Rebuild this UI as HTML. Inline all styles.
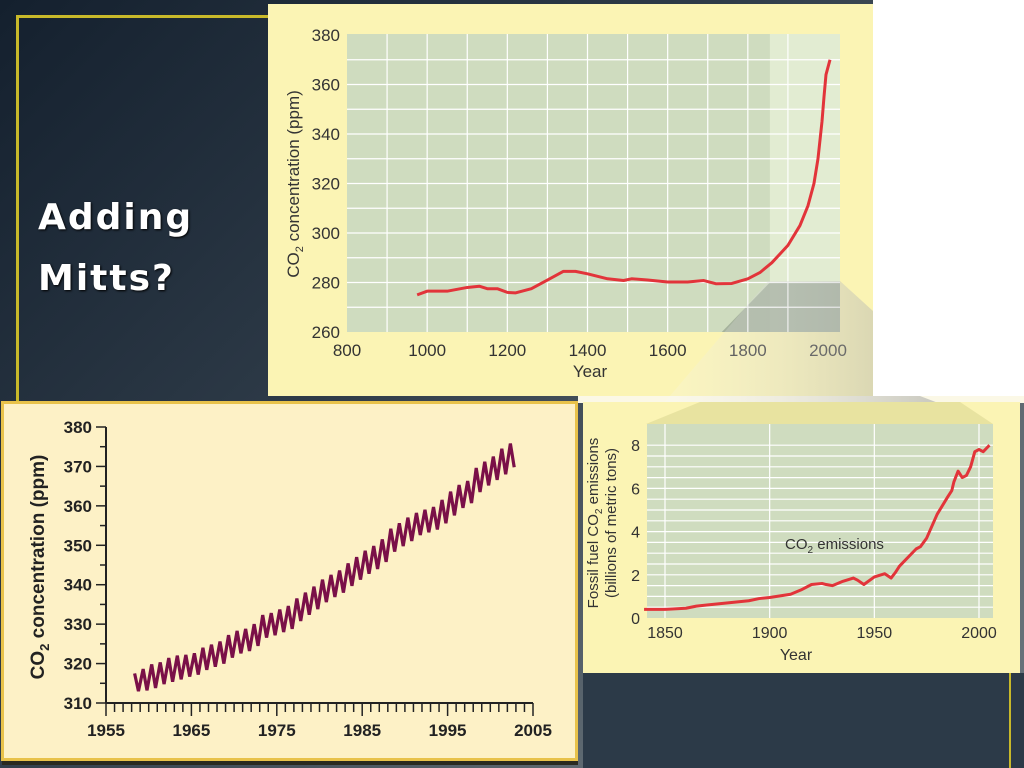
<!DOCTYPE html>
<html><head><meta charset="utf-8"><style>
body{margin:0;width:1024px;height:768px;overflow:hidden;position:relative;font-family:"Liberation Sans",sans-serif;background:#fff}
.abs{position:absolute}
svg text{font-family:"Liberation Sans",sans-serif}
</style></head><body>
<div class="abs" style="left:0;top:0;width:1024px;height:768px;background:linear-gradient(135deg,#14202e 0%,#2e3b48 40%,#5d6870 75%,#6a747c 100%)"></div>
<div class="abs" style="left:873px;top:0;width:151px;height:402px;background:#fff"></div>
<div class="abs" style="left:578px;top:396px;width:446px;height:7px;background:#fbf8e6"></div>
<div class="abs" style="left:16px;top:15px;width:252px;height:3px;background:#c8b92a"></div>
<div class="abs" style="left:16px;top:15px;width:3px;height:390px;background:#c8b92a"></div>
<div class="abs" style="left:38px;top:187px;color:#fff;font-family:'DejaVu Sans',sans-serif;font-size:36px;font-weight:bold;letter-spacing:2px;line-height:61px;text-shadow:1px 1px 2px #000">Adding<br>Mitts?</div>

<svg class="abs" style="left:0;top:0" width="1024" height="768">
<defs>
<linearGradient id="fun" x1="0" y1="0" x2="1" y2="0"><stop offset="0" stop-color="#fff" stop-opacity="0.2"/><stop offset="1" stop-color="#8a8c8a" stop-opacity="0.8"/></linearGradient>
</defs>
<rect x="268" y="4" width="605" height="392" fill="#fbf4b4"/>
<g id="top"></g>
<polygon points="840,281 873,311 873,396 920,396 993,424 646,424 768,281" fill="url(#fun)" opacity="0.75"/>
<rect x="583" y="402" width="437" height="271" fill="#fbf4b4"/>
<polygon points="700,402 960,402 993,424 646,424" fill="#e8e3a0"/>
<g id="br"></g>
<rect x="583" y="673" width="441" height="95" fill="#2c3a48"/>
<rect x="1009" y="673" width="2" height="95" fill="#c8b92a"/>
<rect x="2.5" y="402.5" width="574" height="357" fill="#fdf1c6" stroke="#e8c24a" stroke-width="3"/>
<rect x="2" y="761" width="576" height="4" fill="#2a2a20"/>
<g id="bl"></g>
</svg>

<script>
// ===== Top chart data (ice core CO2) =====
const topYears=[975,1000,1050,1100,1130,1150,1175,1200,1220,1260,1300,1340,1370,1400,1450,1490,1510,1550,1600,1650,1690,1720,1760,1800,1830,1860,1900,1930,1950,1965,1975,1985,1990,1995,2000,2005];
const topCO2=[275,276.5,276.5,278,278.5,277.5,277.5,276,275.8,277.5,281,284.5,284.5,283.5,281.5,280.8,281.5,281,280.2,280.2,280.8,279.5,279.6,281.5,284,288,295,303,311,320,330,345,355,364,367,370];
const topXTicks=[800,1000,1200,1400,1600,1800,2000];
const topYTicks=[260,280,300,320,340,360,380];
// ===== Emissions chart data =====
const emYears=[1840,1850,1860,1865,1870,1880,1890,1895,1900,1910,1915,1920,1925,1927,1930,1935,1940,1942,1945,1950,1955,1958,1960,1962,1965,1970,1972,1975,1980,1985,1987,1988,1990,1992,1994,1996,1998,2000,2002,2004,2005];
const emValues=[0.4,0.4,0.45,0.55,0.6,0.7,0.8,0.9,0.95,1.1,1.3,1.55,1.6,1.55,1.5,1.7,1.85,1.75,1.55,1.9,2.05,1.85,2.1,2.4,2.7,3.2,3.3,3.7,4.8,5.6,5.9,6.3,6.8,6.5,6.6,7.0,7.7,7.8,7.7,7.9,8.0];
const emXTicks=[1850,1900,1950,2000];
const emYTicks=[0,2,4,6,8];
// ===== Keeling curve data =====
const klYears=[1958,1959,1960,1961,1962,1963,1964,1965,1966,1967,1968,1969,1970,1971,1972,1973,1974,1975,1976,1977,1978,1979,1980,1981,1982,1983,1984,1985,1986,1987,1988,1989,1990,1991,1992,1993,1994,1995,1996,1997,1998,1999,2000,2001,2002];
const klPeaks=[317.5,318.6,319.8,320.3,321.4,322.0,322.2,322.6,324.0,324.8,325.6,327.2,328.3,328.8,330.0,332.3,332.8,333.7,334.6,336.5,338.0,339.5,341.3,342.5,343.6,345.4,347.0,348.6,349.8,351.5,354.2,355.6,357.0,358.2,359.0,359.7,361.5,363.6,365.3,366.3,369.6,371.2,372.5,374.5,375.8];
const klTroughs=[313.0,313.2,313.8,314.8,315.4,316.0,316.7,317.2,318.4,319.2,320.0,321.5,322.6,323.2,324.5,326.6,327.2,328.0,328.8,330.8,332.4,333.8,335.6,336.9,338.0,339.7,341.3,342.8,344.0,345.8,348.4,349.8,351.1,352.6,353.3,354.0,355.6,357.6,359.5,360.7,363.5,365.2,366.6,368.0,369.8];
const klXTicks=[1955,1965,1975,1985,1995,2005];
const klYTicks=[310,320,330,340,350,360,370,380];

const NS='http://www.w3.org/2000/svg';
function mk(p,t,a){const e=document.createElementNS(NS,t);for(const k in a)e.setAttribute(k,a[k]);p.appendChild(e);return e;}

(function(){
 const g=document.getElementById('top');
 const x=v=>347+(v-800)*(481/1200), y=v=>332-(v-260)*(297/120);
 const L=347,R=840,T=34,B=332;
 let r=mk(g,'rect',{x:L,y:T,width:R-L,height:B-T,fill:'#cfdcbf'});
 
 r=mk(g,'rect',{x:x(1855),y:T,width:R-x(1855),height:B-T,fill:'#e2ecd2'});
 
 r=mk(g,'polygon',{points:`${x(1855)},${y(280)} ${R},${y(280)} ${R},${B} ${x(1735)},${B}`,fill:'#9aa894',opacity:0.8});
 
 for(let v=900;v<=1950;v+=100){const l=mk(g,'line',{x1:x(v),x2:x(v),y1:T,y2:B,stroke:'#fff','stroke-width':1.2});
  }
 for(let v=270;v<=370;v+=10){const l=mk(g,'line',{x1:L,x2:R,y1:y(v),y2:y(v),stroke:'#fff','stroke-width':1.2});
  }
 topXTicks.forEach(v=>{const t=mk(g,'text',{x:x(v),y:356,'text-anchor':'middle','font-size':17,fill:'#333'});t.textContent=v;
  });
 topYTicks.forEach(v=>{const t=mk(g,'text',{x:340,y:y(v)+6,'text-anchor':'end','font-size':17,fill:'#333'});t.textContent=v;
  });
 let t=mk(g,'text',{x:590,y:377,'text-anchor':'middle','font-size':17,fill:'#333'});t.textContent='Year';
 
 t=mk(g,'text',{transform:'translate(299,184) rotate(-90)','text-anchor':'middle','font-size':17,fill:'#333'});
 t.innerHTML='CO<tspan font-size="11" dy="4">2</tspan><tspan dy="-4"> concentration (ppm)</tspan>';
 
 const p=mk(g,'polyline',{points:topYears.map((v,i)=>x(v)+','+y(topCO2[i])).join(' '),fill:'none',stroke:'#e2343a','stroke-width':3,'stroke-linejoin':'round'});
 
})();

(function(){
 const g=document.getElementById('br');
 const x=v=>665+(v-1850)*(314/150), y=v=>618-v*21.6;
 const L=647,R=993,T=424,B=618;
 let r=mk(g,'rect',{x:L,y:T,width:R-L,height:B-T,fill:'#cfdcbf'});
 
 emXTicks.forEach(v=>{const l=mk(g,'line',{x1:x(v),x2:x(v),y1:T,y2:B,stroke:'#fff','stroke-width':1.2});
  });
 for(let v=0.5;v<=8;v+=0.5){const l=mk(g,'line',{x1:L,x2:R,y1:y(v),y2:y(v),stroke:'#fff','stroke-width':1.2});
  }
 emXTicks.forEach(v=>{const t=mk(g,'text',{x:x(v),y:638,'text-anchor':'middle','font-size':16,fill:'#333'});t.textContent=v;
  });
 emYTicks.forEach(v=>{const t=mk(g,'text',{x:640,y:y(v)+6,'text-anchor':'end','font-size':16,fill:'#333'});t.textContent=v;
  });
 let t=mk(g,'text',{x:796,y:660,'text-anchor':'middle','font-size':16,fill:'#333'});t.textContent='Year';
 
 t=mk(g,'text',{transform:'translate(598,523) rotate(-90)','text-anchor':'middle','font-size':15,fill:'#333'});
 t.innerHTML='Fossil fuel CO<tspan font-size="10" dy="4">2</tspan><tspan dy="-4"> emissions</tspan>';
 
 t=mk(g,'text',{transform:'translate(616,523) rotate(-90)','text-anchor':'middle','font-size':15,fill:'#333'});
 t.textContent='(billions of metric tons)';
 
 t=mk(g,'text',{x:785,y:549,'font-size':15,fill:'#333'});
 t.innerHTML='CO<tspan font-size="10" dy="4">2</tspan><tspan dy="-4"> emissions</tspan>';
 
 const p=mk(g,'polyline',{points:emYears.map((v,i)=>x(v)+','+y(emValues[i])).join(' '),fill:'none',stroke:'#e2343a','stroke-width':3,'stroke-linejoin':'round'});
 
})();

(function(){
 const g=document.getElementById('bl');
 const x=v=>106+(v-1955)*(427/50), y=v=>703-(v-310)*(276/70);
 let l=mk(g,'line',{x1:106,x2:106,y1:y(380),y2:y(310),stroke:'#222','stroke-width':2});
 
 l=mk(g,'line',{x1:106,x2:533,y1:y(310),y2:y(310),stroke:'#222','stroke-width':2});
 
 for(let v=310;v<=380;v+=5){const tk=mk(g,'line',{x1:v%10?100:96,x2:106,y1:y(v),y2:y(v),stroke:'#222','stroke-width':1.5});
  }
 for(let v=1955;v<=2005;v+=1){const tk=mk(g,'line',{x1:x(v),x2:x(v),y1:y(310),y2:y(310)+(v%10==5?13:9),stroke:'#222','stroke-width':1.5});
  }
 klXTicks.forEach(v=>{const t=mk(g,'text',{x:x(v),y:736,'text-anchor':'middle','font-size':17,'font-weight':'bold',fill:'#222'});t.textContent=v;
  });
 klYTicks.forEach(v=>{const t=mk(g,'text',{x:92,y:y(v)+6,'text-anchor':'end','font-size':17,'font-weight':'bold',fill:'#222'});t.textContent=v;
  });
 const t=mk(g,'text',{transform:'translate(44,567) rotate(-90)','text-anchor':'middle','font-size':19,'font-weight':'bold',fill:'#222'});
 t.innerHTML='CO<tspan font-size="13" dy="5">2</tspan><tspan dy="-5"> concentration (ppm)</tspan>';
 
 const pts=[];
 klYears.forEach((v,i)=>{pts.push(x(v+0.35)+','+y(klPeaks[i]));pts.push(x(v+0.8)+','+y(klTroughs[i]));});
 const p=mk(g,'polyline',{points:pts.join(' '),fill:'none',stroke:'#7a1048','stroke-width':3.2,'stroke-linejoin':'miter'});
 
})();
</script>
</body></html>
